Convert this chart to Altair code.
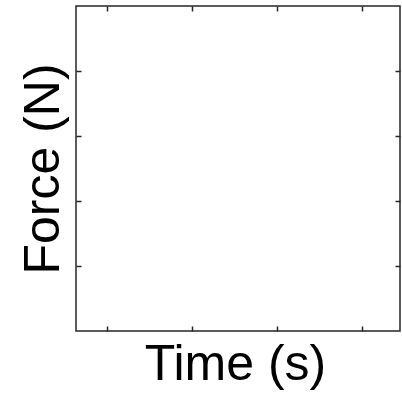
import altair as alt
import pandas as pd

# Data (empty MATLAB-style axes: only tick positions and ranges)
x_ticks = [0, 1, 2, 3]
y_ticks = [1, 2, 3, 4]
x_domain = [-0.36, 3.45]
y_domain = [0, 5]
x_title = "Time (s)"
y_title = "Force (N)"

df = pd.DataFrame({"x": x_ticks, "y": y_ticks})

FONT = "Liberation Sans"
TICK_COLOR = "#262626"

common_axis = dict(
    labels=False, domain=False, grid=False, ticks=True,
    tickSize=5, tickWidth=1.5, tickColor=TICK_COLOR, offset=-5,
)

bottom_left = alt.Chart(df).mark_point(opacity=0).encode(
    x=alt.X("x:Q", scale=alt.Scale(domain=x_domain, nice=False, zero=False),
            axis=alt.Axis(orient="bottom", values=x_ticks, title=x_title,
                          titleFont=FONT, titleFontSize=50, titleFontWeight="normal",
                          titleColor="black", titleBaseline="alphabetic",
                          titleY=53, titleX=159, **common_axis)),
    y=alt.Y("y:Q", scale=alt.Scale(domain=y_domain, nice=False, zero=False),
            axis=alt.Axis(orient="left", values=y_ticks, title=y_title,
                          titleFont=FONT, titleFontSize=50, titleFontWeight="normal",
                          titleColor="black", titleBaseline="alphabetic",
                          titleX=-23, **common_axis)),
)

top_right = alt.Chart(df).mark_point(opacity=0).encode(
    x=alt.X("x:Q", scale=alt.Scale(domain=x_domain, nice=False, zero=False),
            axis=alt.Axis(orient="top", values=x_ticks, title=None, **common_axis)),
    y=alt.Y("y:Q", scale=alt.Scale(domain=y_domain, nice=False, zero=False),
            axis=alt.Axis(orient="right", values=y_ticks, title=None, **common_axis)),
)

chart = alt.layer(bottom_left, top_right).resolve_axis(
    x="independent", y="independent"
).properties(
    width=324, height=325,
    autosize=alt.AutoSizeParams(type="none"),
    padding={"left": 76, "top": 6, "right": 2, "bottom": 63},
    background="white",
).configure_view(
    stroke=TICK_COLOR, strokeWidth=1.5, fill="white"
)

chart.save("out.html", embed_options={"renderer": "svg", "actions": False})
